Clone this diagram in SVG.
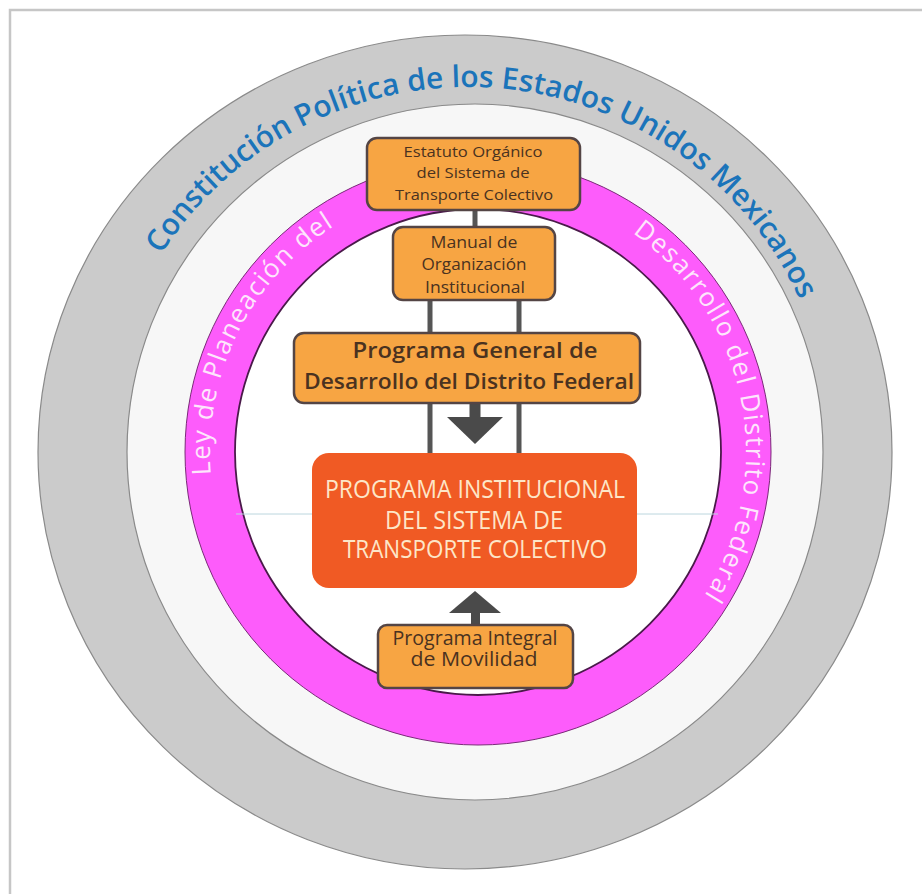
<svg xmlns="http://www.w3.org/2000/svg" width="922" height="894" viewBox="0 0 922 894">
<defs>
<style>
.box{fill:#f7a543;stroke:#544545;stroke-width:2.5}
.bt{font-family:"Open Sans","Liberation Sans",sans-serif;fill:#4a3220;text-anchor:middle}
.conn{stroke:#555;stroke-width:5;fill:none}
.arrow{fill:#4a4a4a}
.blue{font-family:"Open Sans","Liberation Sans",sans-serif;font-weight:600;font-size:30px;fill:#1b74ba}
.pink{font-family:"Open Sans","Liberation Sans",sans-serif;font-weight:400;font-size:26px;letter-spacing:1.5px;fill:#fde6fb}
.wt{font-family:"Open Sans","Liberation Sans",sans-serif;fill:#fde6c8;text-anchor:middle;font-size:25px}
</style>
<path id="outerArc" d="M 103,452 A 365 365 0 0 1 833,452"/>
<path id="magArc" d="M 478,720 A 268 268 0 0 1 478,184 A 268 268 0 0 1 478,720"/>
</defs>
<rect x="10" y="10" width="1000" height="1000" fill="none" stroke="#c6c6c6" stroke-width="2.5"/>
<g id="rings">
<ellipse cx="465" cy="452" rx="427" ry="417" fill="#cbcbcb" stroke="#8a8a8a" stroke-width="1.2"/>
<circle cx="475" cy="452" r="348" fill="#f7f7f7" stroke="#8a8a8a" stroke-width="1.2"/>
<circle cx="478" cy="452" r="293" fill="#fd5cfb" stroke="#7a2a78" stroke-width="1"/>
<circle cx="478" cy="452" r="243" fill="#ffffff" stroke="#4a1a4a" stroke-width="1.8"/>
<line x1="236" y1="514" x2="718" y2="514" stroke="#bcd6de" stroke-width="1"/>
</g>
<g id="ring-labels">
<text class="blue"><textPath href="#outerArc" startOffset="599" text-anchor="middle">Constitución Política de los Estados Unidos Mexicanos</textPath></text>
<text class="pink"><textPath href="#magArc" startOffset="398">Ley de Planeación del</textPath></text>
<text class="pink"><textPath href="#magArc" startOffset="1006">Desarrollo del Distrito Federal</textPath></text>
</g>
<g id="connectors">
<line class="conn" x1="475" y1="208" x2="475" y2="229"/>
<line class="conn" x1="430" y1="298" x2="430" y2="455"/>
<line class="conn" x1="519" y1="298" x2="519" y2="455"/>
<rect class="arrow" x="469.5" y="402" width="11" height="18"/>
<polygon class="arrow" points="447,417 503,417 475,444"/>
<polygon class="arrow" points="475,591 449,613 501,613"/>
<rect class="arrow" x="471" y="611" width="9" height="16"/>
</g>
<g id="estatuto">
<rect class="box" x="367" y="138" width="213" height="72" rx="10"/>
<text class="bt" font-size="15"><tspan x="473" y="157" textLength="139" lengthAdjust="spacingAndGlyphs">Estatuto Orgánico</tspan><tspan x="473" y="178" textLength="113" lengthAdjust="spacingAndGlyphs">del Sistema de</tspan><tspan x="474" y="200" textLength="158" lengthAdjust="spacingAndGlyphs">Transporte Colectivo</tspan></text>
</g>
<g id="manual">
<rect class="box" x="393" y="227" width="162" height="73" rx="10"/>
<text class="bt" font-size="17"><tspan x="474" y="248" textLength="87" lengthAdjust="spacingAndGlyphs">Manual de</tspan><tspan x="474" y="270" textLength="105" lengthAdjust="spacingAndGlyphs">Organización</tspan><tspan x="475" y="293" textLength="100" lengthAdjust="spacingAndGlyphs">Institucional</tspan></text>
</g>
<g id="programa-general">
<rect class="box" x="294" y="333" width="346" height="70" rx="10" stroke-width="3"/>
<text class="bt" font-size="22" font-weight="600"><tspan x="475" y="358" textLength="245" lengthAdjust="spacingAndGlyphs">Programa General de</tspan><tspan x="469" y="389" textLength="330" lengthAdjust="spacingAndGlyphs">Desarrollo del Distrito Federal</tspan></text>
</g>
<g id="programa-institucional">
<rect x="312" y="453" width="325" height="135" rx="17" fill="#f05a24"/>
<text class="wt"><tspan x="475" y="498" textLength="300" lengthAdjust="spacingAndGlyphs">PROGRAMA INSTITUCIONAL</tspan><tspan x="474" y="529" textLength="178" lengthAdjust="spacingAndGlyphs">DEL SISTEMA DE</tspan><tspan x="475" y="558" textLength="264" lengthAdjust="spacingAndGlyphs">TRANSPORTE COLECTIVO</tspan></text>
</g>
<g id="movilidad">
<rect class="box" x="378" y="625" width="195" height="63" rx="9" stroke-width="3"/>
<text class="bt" font-size="19.5"><tspan x="475" y="645" textLength="165" lengthAdjust="spacingAndGlyphs">Programa Integral</tspan><tspan x="474" y="666" textLength="127" lengthAdjust="spacingAndGlyphs">de Movilidad</tspan></text>
</g>
</svg>
